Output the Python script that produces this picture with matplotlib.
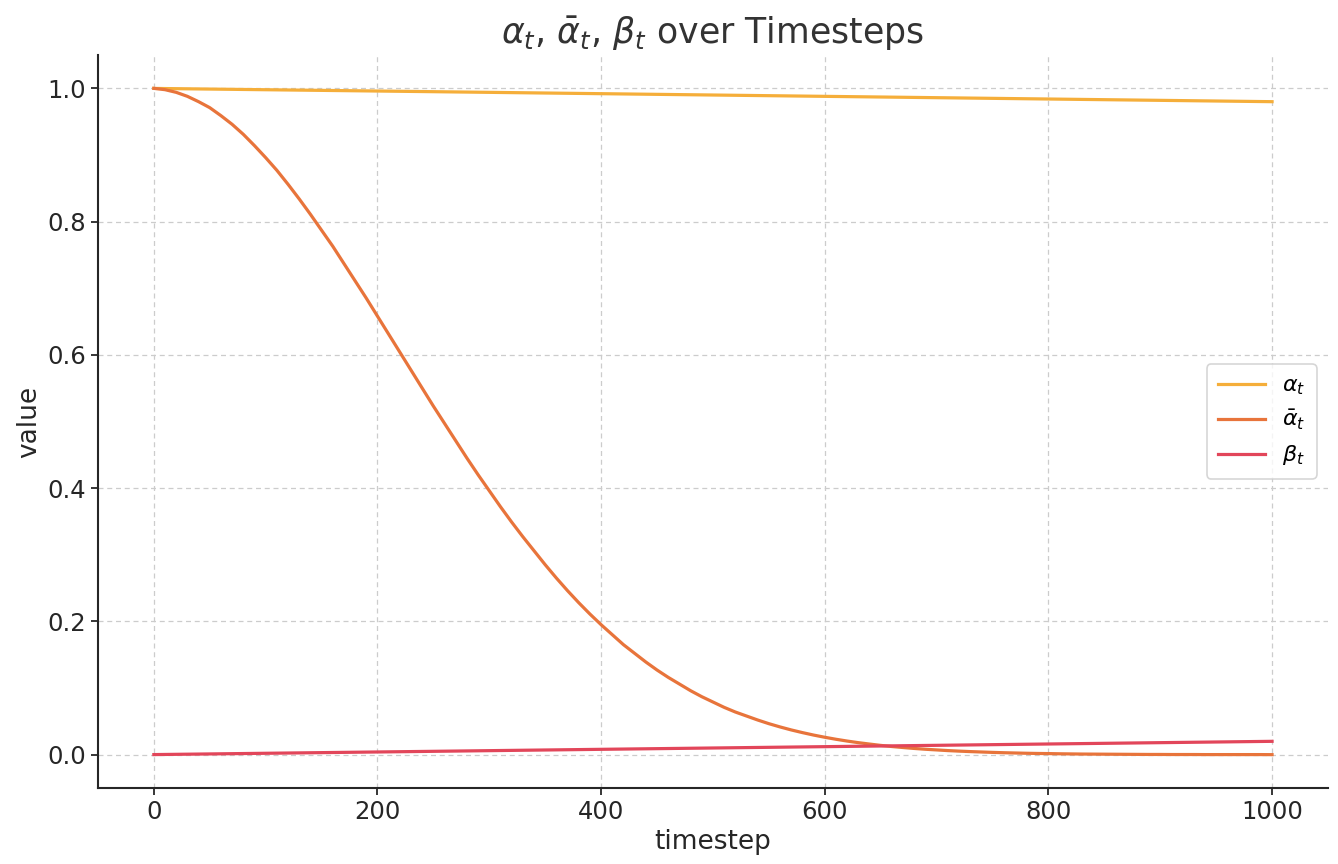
import matplotlib
matplotlib.use("Agg")
import matplotlib.pyplot as plt

# Data
timestep = list(range(0, 1001, 10))
alpha_bar = [1.0, 0.998, 0.994, 0.988, 0.980, 0.971, 0.959, 0.946, 0.931, 0.914,
             0.896, 0.877, 0.856, 0.834, 0.811, 0.787, 0.763, 0.737, 0.711, 0.685,
             0.658, 0.631, 0.604, 0.577, 0.550, 0.523, 0.497, 0.471, 0.445, 0.420,
             0.396, 0.372, 0.349, 0.327, 0.306, 0.285, 0.265, 0.246, 0.228, 0.211,
             0.195, 0.180, 0.165, 0.152, 0.139, 0.127, 0.116, 0.106, 0.096, 0.087,
             0.079, 0.071, 0.064, 0.058, 0.052, 0.0465, 0.0416, 0.0371, 0.0331, 0.0294,
             0.0261, 0.0231, 0.0204, 0.0180, 0.0159, 0.0139, 0.0122, 0.0107, 0.0093, 0.0081,
             0.0071, 0.0061, 0.0053, 0.0046, 0.0040, 0.0034, 0.0029, 0.0025, 0.0021, 0.0018,
             0.0016, 0.0013, 0.0011, 0.0009, 0.0008, 0.0007, 0.0006, 0.0005, 0.0004, 0.0003,
             0.0003, 0.0002, 0.0002, 0.0002, 0.0001, 0.0001, 0.0001, 0.0001, 0.0001, 0.0001,
             0.0000]
t_lin = [0, 250, 500, 750, 1000]
alpha = [0.9999, 0.995, 0.990, 0.985, 0.980]
beta = [0.0001, 0.005, 0.010, 0.015, 0.020]

title = r"$\alpha_t$, $\bar{\alpha}_t$, $\beta_t$ over Timesteps"
labels = [r"$\alpha_t$", r"$\bar{\alpha}_t$", r"$\beta_t$"]
colors = ["#F5AE3A", "#E8743B", "#E2465A"]

plt.rcParams["font.family"] = ["DejaVu Sans"]
fig = plt.figure(figsize=(13.38, 8.64), dpi=100)
ax = fig.add_axes([0.0732, 0.088, 0.9193, 0.8483])

ax.plot(t_lin, alpha, color=colors[0], lw=2.3, label=labels[0])
ax.plot(timestep, alpha_bar, color=colors[1], lw=2.3, label=labels[1])
ax.plot(t_lin, beta, color=colors[2], lw=2.3, label=labels[2])

ax.set_xlim(-50, 1050)
ax.set_ylim(-0.05, 1.05)
ax.set_xticks([0, 200, 400, 600, 800, 1000])
ax.set_yticks([0.0, 0.2, 0.4, 0.6, 0.8, 1.0])
ax.grid(True, linestyle=(0, (4, 3)), color="#cccccc", linewidth=0.9)
ax.set_axisbelow(True)
for s in ["top", "right"]:
    ax.spines[s].set_visible(False)
for s in ["left", "bottom"]:
    ax.spines[s].set_linewidth(1.5)
    ax.spines[s].set_color("#262626")
ax.tick_params(labelsize=17.5, colors="#262626", length=5, width=1.3)
ax.set_xlabel("timestep", fontsize=19, color="#262626")
ax.set_ylabel("value", fontsize=19, color="#262626")
ax.set_title(title, fontsize=25, color="#333333", pad=8)
leg = ax.legend(loc="center right", fontsize=16, frameon=True, fancybox=True,
                handlelength=2.1, borderpad=0.5, labelspacing=0.5)
leg.get_frame().set_edgecolor("#cccccc")
leg.get_frame().set_linewidth(1.2)

fig.savefig("out.png", dpi=100)
